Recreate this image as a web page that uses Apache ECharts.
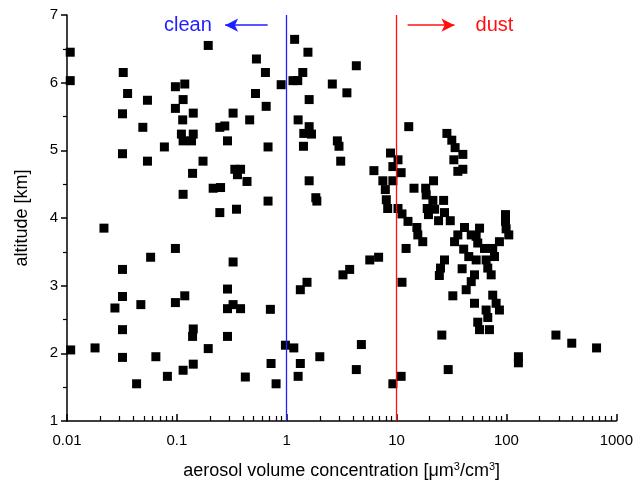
<!DOCTYPE html>
<html>
<head>
<meta charset="utf-8">
<script src="https://cdn.jsdelivr.net/npm/echarts@6/dist/echarts.min.js"></script>
<style>
  html, body { margin: 0; padding: 0; background: #fff; }
  #chart { width: 636px; height: 493px; }
</style>
</head>
<body>
<div id="chart"></div>
<script>
// [concentration (um3/cm3), altitude (km)]
const cleanPoints = [
  [0.0107, 6.45], [0.0107, 6.03], [0.193, 6.55], [0.53, 6.35], [0.64, 6.15], [0.0325, 6.15],
  [0.0356, 5.84], [0.054, 5.74], [0.032, 5.54], [0.097, 5.94], [0.118, 5.98], [0.114, 5.75],
  [0.097, 5.62], [0.141, 5.55], [0.113, 5.45], [0.325, 5.55], [0.46, 5.45], [0.52, 5.84],
  [0.65, 5.65], [0.89, 5.97], [0.049, 5.34], [0.032, 4.95], [0.054, 4.84], [0.077, 5.05],
  [0.110, 5.24], [0.141, 5.24], [0.114, 5.14], [0.136, 5.14], [0.246, 5.34], [0.273, 5.36],
  [0.289, 5.14], [0.676, 5.05], [0.173, 4.84], [0.139, 4.66], [0.337, 4.72], [0.38, 4.72],
  [0.356, 4.64], [0.435, 4.54], [0.214, 4.44], [0.25, 4.45], [0.114, 4.35], [0.676, 4.25],
  [0.246, 4.08], [0.349, 4.13], [0.0217, 3.85], [0.097, 3.55], [0.0577, 3.42], [0.325, 3.35],
  [0.032, 3.24], [0.289, 2.95], [0.032, 2.84], [0.118, 2.85], [0.0273, 2.67], [0.047, 2.72],
  [0.097, 2.75], [0.289, 2.66], [0.325, 2.72], [0.38, 2.66], [0.71, 2.65], [0.032, 2.35],
  [0.141, 2.36], [0.139, 2.25], [0.289, 2.25], [0.0108, 2.05], [0.018, 2.08], [0.032, 1.94],
  [0.0644, 1.95], [0.193, 2.07], [0.973, 2.12], [0.141, 1.84], [0.72, 1.85], [0.114, 1.75],
  [0.082, 1.66], [0.043, 1.55], [0.42, 1.65], [0.8, 1.55]
];
const transitionPoints = [
  [1.14, 6.03], [1.26, 6.03], [1.40, 6.15], [1.18, 6.64], [1.56, 6.45], [4.3, 6.25],
  [2.6, 5.98], [3.53, 5.85], [1.6, 5.75], [1.27, 5.45], [1.6, 5.35], [1.43, 5.25],
  [1.68, 5.24], [1.42, 5.06], [2.89, 5.14], [2.99, 5.06], [3.1, 4.84], [1.6, 4.55],
  [1.84, 4.30], [1.88, 4.25], [1.16, 2.08], [1.33, 1.85], [1.27, 1.66], [2.0, 1.95],
  [1.33, 2.94], [1.53, 3.05], [3.25, 3.16], [3.74, 3.24], [5.7, 3.38], [6.86, 3.42],
  [4.78, 2.13], [4.3, 1.76], [9.25, 1.55], [11.0, 1.66],
  [8.8, 4.96], [10.3, 4.86], [9.25, 4.76], [11.0, 4.67], [6.22, 4.70], [7.5, 4.55],
  [9.25, 4.55], [7.9, 4.42], [8.06, 4.27], [8.3, 4.14], [10.3, 4.14], [11.2, 4.06],
  [12.7, 3.95], [15.3, 3.86], [15.6, 3.75], [17.3, 3.65], [12.2, 3.55], [11.2, 3.05]
];
const dustPoints = [
  [12.9, 5.35], [28.7, 5.25], [31.8, 5.15], [34.1, 5.04], [40.1, 4.94], [33.2, 4.86],
  [36.1, 4.69], [40.1, 4.72], [14.4, 4.44], [21.7, 4.55], [18.4, 4.44], [18.6, 4.34],
  [21.4, 4.26], [26.8, 4.26], [19.0, 4.14], [22.2, 4.13], [19.5, 4.05], [27.3, 4.08],
  [24.1, 3.96], [30.8, 3.96], [41.5, 3.86], [36.1, 3.75], [33.7, 3.65], [47.8, 3.75],
  [40.8, 3.54], [45.4, 3.43], [27.3, 3.38], [25.1, 3.26], [24.5, 3.15], [39.5, 3.25],
  [47.8, 3.06], [43, 2.94], [32.5, 2.85], [25.8, 2.27], [29.5, 1.76],
  [56.9, 3.85], [98, 4.05], [98, 3.95], [99.3, 3.84], [105, 3.75], [53, 3.73],
  [54.8, 3.63], [63.1, 3.55], [75, 3.55], [86.3, 3.65], [77.8, 3.43], [53, 3.38],
  [65.3, 3.38], [67.6, 3.26], [72.6, 3.16], [51.2, 3.16], [75, 2.86], [80.5, 2.74],
  [86.3, 2.64], [65.3, 2.64], [51.2, 2.74], [67.6, 2.53], [54.8, 2.46], [56.9, 2.35],
  [70, 2.35], [282, 2.27], [393, 2.15], [661, 2.08], [128.5, 1.95], [128.5, 1.86]
];

const xTickLabels = ['0.01', '0.1', '1', '10', '100', '1000'];
const yTickLabels = ['1', '2', '3', '4', '5', '6', '7'];
const cleanLimit = 1;   // blue line
const dustLimit = 10;   // red line

const font = 'Liberation Sans, Arial, sans-serif';
const blue = '#1f1fff';
const red = '#ff1010';

const chart = echarts.init(document.getElementById('chart'));

const option = {
  animation: false,
  grid: { left: 67, right: 19, top: 15, bottom: 72 },
  xAxis: {
    type: 'log',
    logBase: 10,
    min: 0.01,
    max: 1000,
    name: 'aerosol volume concentration [{u|μm}{s|3}{u|/cm}{s|3}{u|]}',
    nameLocation: 'middle',
    nameGap: 40,
    nameTextStyle: {
      color: '#000', fontFamily: font, fontSize: 18,
      rich: {
        u: { fontFamily: font, fontSize: 18, color: '#000' },
        s: { fontFamily: font, fontSize: 11, color: '#000', verticalAlign: 'top', padding: [0, 0, 9, 0] }
      }
    },
    axisLine: { lineStyle: { color: '#000', width: 1.5 } },
    axisTick: { inside: true, length: 7, lineStyle: { color: '#000', width: 1.5 } },
    minorTick: { show: true, splitNumber: 9, length: 5, lineStyle: { color: '#000', width: 1.2 } },
    splitLine: { show: false },
    axisLabel: {
      color: '#000', fontFamily: font, fontSize: 15, margin: 12,
      formatter: v => xTickLabels[Math.round(Math.log10(v)) + 2]
    }
  },
  yAxis: {
    type: 'value',
    min: 1,
    max: 7,
    interval: 1,
    name: 'altitude [km]',
    nameLocation: 'middle',
    nameGap: 36,
    nameTextStyle: { color: '#000', fontFamily: font, fontSize: 18 },
    axisLine: { show: true, lineStyle: { color: '#000', width: 1.5 } },
    axisTick: { length: 6, lineStyle: { color: '#000', width: 1.5 } },
    minorTick: { show: true, splitNumber: 2, length: 4, lineStyle: { color: '#000', width: 1.2 } },
    splitLine: { show: false },
    axisLabel: {
      color: '#000', fontFamily: font, fontSize: 15, margin: 9,
      formatter: v => yTickLabels[Math.round(v) - 1]
    }
  },
  series: [
    {
      type: 'scatter',
      symbol: 'rect',
      symbolSize: 9,
      itemStyle: { color: '#000', opacity: 1 },
      data: cleanPoints.concat(transitionPoints, dustPoints),
      z: 3
    },
    {
      // threshold lines and annotation arrows
      type: 'line',
      data: [],
      markLine: {
        silent: true,
        animation: false,
        label: { show: false },
        data: [
          [{ coord: [cleanLimit, 1], symbol: 'none', lineStyle: { color: blue, width: 1.3, type: 'solid' } },
           { coord: [cleanLimit, 7], symbol: 'none' }],
          [{ coord: [dustLimit, 1], symbol: 'none', lineStyle: { color: red, width: 1.3, type: 'solid' } },
           { coord: [dustLimit, 7], symbol: 'none' }],
          [{ coord: [0.67, 6.85], symbol: 'none', lineStyle: { color: blue, width: 1.5, type: 'solid' } },
           { coord: [0.275, 6.85], symbol: 'arrow', symbolSize: [10, 13] }],
          [{ coord: [12.6, 6.85], symbol: 'none', lineStyle: { color: red, width: 1.5, type: 'solid' } },
           { coord: [33.6, 6.85], symbol: 'arrow', symbolSize: [10, 13] }]
        ]
      },
      markPoint: {
        silent: true,
        symbol: 'circle',
        symbolSize: 0,
        data: [
          { coord: [0.126, 6.85], label: { show: true, formatter: 'clean', color: blue, fontFamily: font, fontSize: 20, position: 'inside' } },
          { coord: [77.8, 6.85], label: { show: true, formatter: 'dust', color: red, fontFamily: font, fontSize: 20, position: 'inside' } }
        ]
      }
    }
  ]
};

chart.setOption(option);
</script>
</body>
</html>
